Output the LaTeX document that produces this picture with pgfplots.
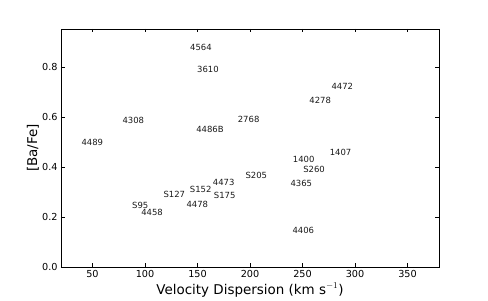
\documentclass[border=0pt]{standalone}
\usepackage{pgfplots}
\pgfplotsset{compat=1.18}
\usepackage{fontspec}
\setmainfont{DejaVu Sans}
\begin{document}
\begin{tikzpicture}
\begin{axis}[name=ax, scale only axis, width=378bp, height=238bp,
  xmin=20, xmax=380, ymin=0, ymax=0.952,
  xtick={50,100,...,350}, ytick={0,0.2,0.4,0.6,0.8},
  yticklabel style={/pgf/number format/fixed, /pgf/number format/fixed zerofill, /pgf/number format/precision=1},
  /pgf/number format/assume math mode=true,
  tick align=inside, major tick length=3.5bp, tick style={black, line width=0.6pt},
  axis line style={line width=0.9pt},
  ticklabel style={font=\fontsize{9.7}{12}\selectfont},
  xlabel={Velocity Dispersion (km s$^{-1}$)}, ylabel={[Ba/Fe]},
  label style={font=\fontsize{13.5}{16}\selectfont},
  xlabel style={at={(axis description cs:0.5,-0.097)}, anchor=center},
  ylabel style={at={(axis description cs:-0.074,0.5)}, anchor=center},
]
\addplot[only marks, mark=none, nodes near coords={\pgfplotspointmeta}, point meta=explicit symbolic,
  every node near coord/.append style={anchor=center, inner sep=0pt, font=\fontsize{8.5}{10}\selectfont, text=black!90}]
  table[meta=label] {
x y label
153.3 0.880 4564
160.0 0.789 3610
88.9 0.585 4308
161.9 0.549 4486B
49.8 0.499 4489
198.7 0.592 2768
287.9 0.721 4472
266.9 0.668 4278
286.3 0.460 1407
251.1 0.432 1400
261.0 0.391 S260
206.0 0.368 S205
248.9 0.336 4365
250.8 0.148 4406
174.9 0.340 4473
153.0 0.312 S152
175.9 0.287 S175
127.9 0.291 S127
149.8 0.252 4478
95.5 0.247 S95
106.7 0.217 4458
};
\end{axis}
\path ([xshift=-61bp,yshift=-31bp]ax.south west) rectangle ([xshift=49bp,yshift=29bp]ax.north east);
\end{tikzpicture}
\end{document}
